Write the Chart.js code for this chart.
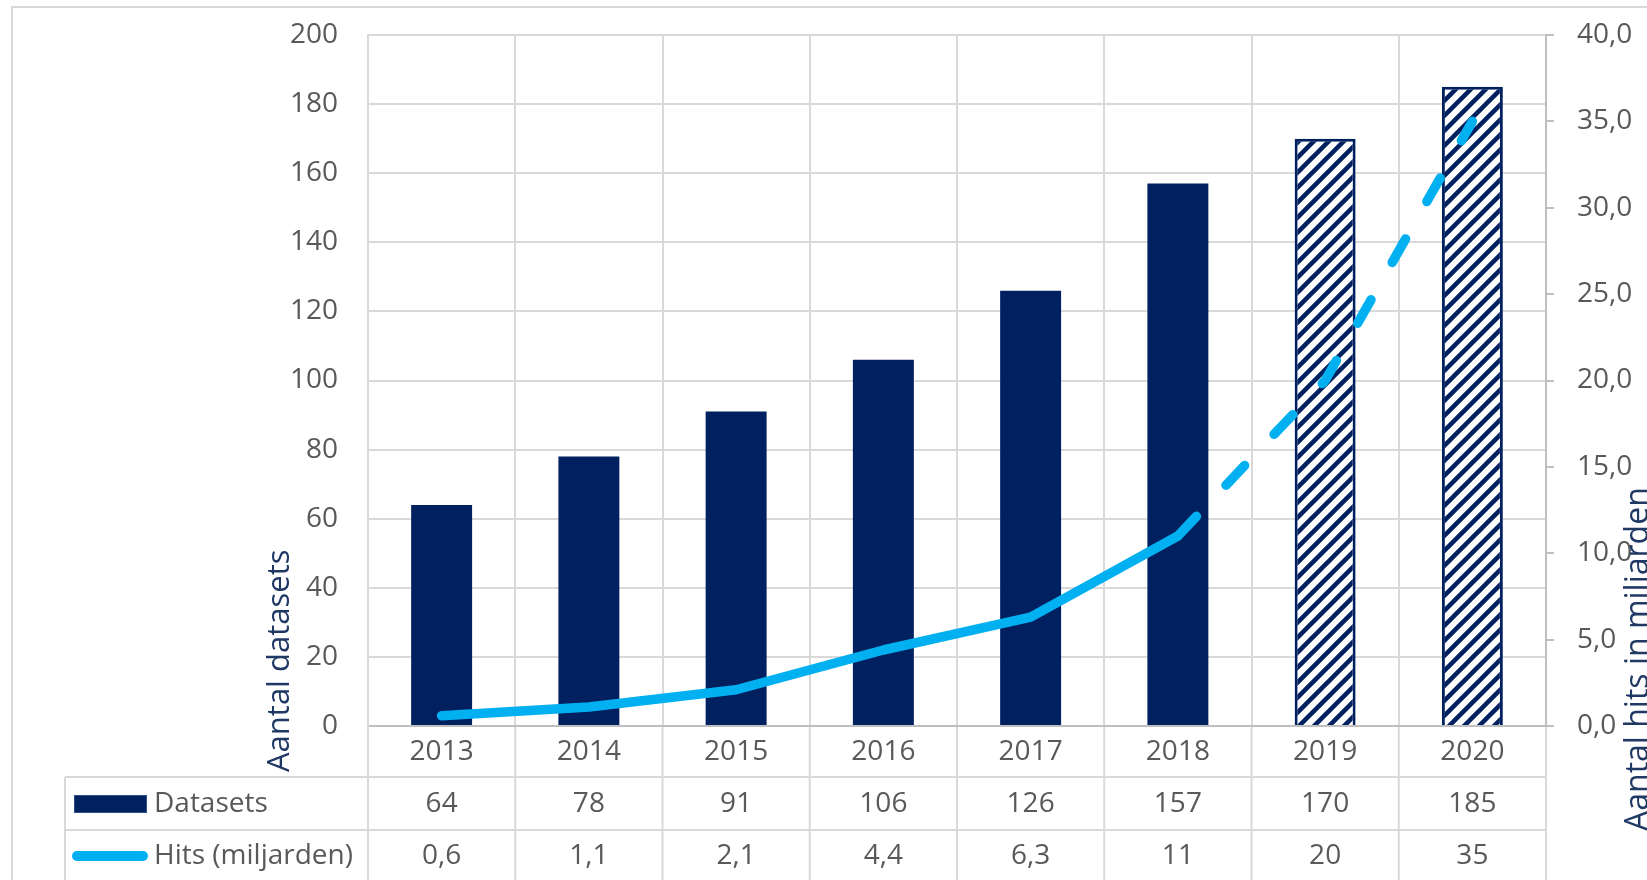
<!DOCTYPE html>
<html><head><meta charset="utf-8">
<script src="https://cdn.jsdelivr.net/npm/chart.js@4"></script>
<style>html,body{margin:0;padding:0;background:#fff;overflow:hidden}canvas{display:block}</style>
</head><body>
<canvas id="c" width="1647" height="880"></canvas>
<script>
// ---- data ----
const years = ['2013', '2014', '2015', '2016', '2017', '2018', '2019', '2020'];
const datasetsCount = [64, 78, 91, 106, 126, 157, 170, 185];
const hitsBillions = [0.6, 1.1, 2.1, 4.4, 6.3, 11, 20, 35];
const firstProjected = 6; // 2019 and 2020 are projections
const seriesNames = ['Datasets', 'Hits (miljarden)'];
const axisTitles = ['Aantal datasets', 'Aantal hits in miljarden'];
const leftAxis = { min: 0, max: 200, step: 20 };
const rightAxis = { min: 0, max: 40, step: 5 };

// ---- styles ----
const NAVY = '#002060';
const BLUE = '#00B0F0';
const GRID = '#d9d9d9';
const TEXT = '#595959';
const TITLE = '#1F3864';
const FONT = "'Open Sans', sans-serif";

const canvas = document.getElementById('c');
const ctx0 = canvas.getContext('2d');

function makeHatch() {
  const s = 15;
  const c = document.createElement('canvas');
  c.width = s; c.height = s;
  const g = c.getContext('2d');
  g.fillStyle = '#fff'; g.fillRect(0, 0, s, s);
  g.strokeStyle = NAVY; g.lineWidth = 4.5; g.lineCap = 'square';
  g.beginPath();
  g.moveTo(-s / 2, s / 2); g.lineTo(s / 2, -s / 2);
  g.moveTo(0, s); g.lineTo(s, 0);
  g.moveTo(s / 2, s * 1.5); g.lineTo(s * 1.5, s / 2);
  g.stroke();
  return ctx0.createPattern(c, 'repeat');
}
const hatch = makeHatch();

const commaFmt = v => String(v).replace('.', ',');

const decorPlugin = {
  id: 'decor',
  beforeDraw(chart) {
    const ctx = chart.ctx;
    ctx.save();
    ctx.strokeStyle = GRID; ctx.lineWidth = 2;
    ctx.beginPath();
    ctx.moveTo(12, 880); ctx.lineTo(12, 7); ctx.lineTo(1647, 7);
    ctx.stroke();
    ctx.restore();
  },
  afterDraw(chart) {
    const ctx = chart.ctx;
    const a = chart.chartArea;
    const x = chart.scales.x;
    const n = years.length;
    const cw = (a.right - a.left) / n;
    const tTop = 777, tMid = 830, tBot = 882;
    const row1 = 804, row2 = 856;
    ctx.save();
    ctx.strokeStyle = GRID; ctx.lineWidth = 2;
    ctx.beginPath();
    ctx.moveTo(65, tTop); ctx.lineTo(a.right, tTop);
    ctx.moveTo(65, tMid); ctx.lineTo(a.right, tMid);
    ctx.moveTo(65, tBot); ctx.lineTo(a.right, tBot);
    ctx.moveTo(65, tTop); ctx.lineTo(65, 880);
    for (let i = 0; i <= n; i++) {
      const bx = a.left + i * cw;
      ctx.moveTo(bx, a.bottom + 1); ctx.lineTo(bx, 880);
    }
    ctx.stroke();

    // legend keys
    ctx.fillStyle = NAVY;
    ctx.fillRect(74, 795, 73, 18);
    ctx.strokeStyle = '#2f4f8f'; ctx.lineWidth = 1;
    ctx.strokeRect(74.5, 795.5, 72, 17);
    ctx.strokeStyle = BLUE; ctx.lineWidth = 10; ctx.lineCap = 'round';
    ctx.beginPath(); ctx.moveTo(77, row2); ctx.lineTo(143, row2); ctx.stroke();

    ctx.font = '28px ' + FONT;
    ctx.fillStyle = TEXT;
    ctx.textBaseline = 'middle';
    ctx.textAlign = 'left';
    ctx.fillText(seriesNames[0], 154, row1);
    ctx.fillText(seriesNames[1], 154, row2);
    ctx.textAlign = 'center';
    for (let i = 0; i < n; i++) {
      const cx = x.getPixelForValue(i);
      ctx.fillText(String(datasetsCount[i]), cx, row1);
      ctx.fillText(commaFmt(hitsBillions[i]), cx, row2);
    }

    // axis titles
    ctx.fillStyle = TITLE;
    ctx.textBaseline = 'alphabetic';
    ctx.textAlign = 'left';
    ctx.font = '31px ' + FONT;
    ctx.save();
    ctx.translate(289, 772); ctx.rotate(-Math.PI / 2);
    ctx.fillText(axisTitles[0], 0, 0);
    ctx.restore();
    ctx.font = '32px ' + FONT;
    ctx.save();
    ctx.translate(1648, 831); ctx.rotate(-Math.PI / 2);
    ctx.fillText(axisTitles[1], 0, 0);
    ctx.restore();
    ctx.restore();
  }
};

Chart.defaults.font.family = FONT;
Chart.defaults.font.size = 28;
Chart.defaults.color = TEXT;

const noPad = s => { s.paddingTop = 0; s.paddingBottom = 0; s.paddingLeft = 0; s.paddingRight = 0; };

new Chart(canvas, {
  type: 'bar',
  data: {
    labels: years,
    datasets: [
      {
        type: 'line',
        label: seriesNames[1],
        data: hitsBillions,
        yAxisID: 'y1',
        order: 0,
        borderColor: BLUE,
        borderWidth: 9.5,
        borderCapStyle: 'round',
        borderJoinStyle: 'round',
        pointRadius: 0,
        tension: 0,
        fill: false,
        segment: {
          borderDash: c => (c.p0DataIndex >= firstProjected - 1 ? [27, 43] : undefined)
        }
      },
      {
        type: 'bar',
        label: seriesNames[0],
        data: datasetsCount,
        yAxisID: 'y',
        order: 1,
        backgroundColor: datasetsCount.map((v, i) => i >= firstProjected ? hatch : NAVY),
        borderColor: NAVY,
        borderWidth: datasetsCount.map((v, i) => i >= firstProjected ? 3 : 0),
        barPercentage: 0.414,
        categoryPercentage: 1
      }
    ]
  },
  options: {
    responsive: false,
    animation: false,
    devicePixelRatio: 1,
    layout: { padding: { top: 35, left: 0, right: 0, bottom: 0 } },
    plugins: { legend: { display: false }, tooltip: { enabled: false } },
    scales: {
      x: {
        offset: true,
        grid: { color: GRID, lineWidth: 2, drawTicks: false, offset: true },
        border: { color: '#bfbfbf', width: 2 },
        ticks: { padding: 9, color: TEXT, font: { size: 28 } },
        afterFit: s => { s.height = 154; noPad(s); }
      },
      y: {
        position: 'left',
        min: leftAxis.min, max: leftAxis.max,
        grid: { color: GRID, lineWidth: 2, drawTicks: false },
        border: { color: GRID, width: 2 },
        ticks: { stepSize: leftAxis.step, padding: 30, color: TEXT, font: { size: 28 } },
        afterFit: s => { s.width = 368; noPad(s); }
      },
      y1: {
        position: 'right',
        min: rightAxis.min, max: rightAxis.max,
        grid: { drawOnChartArea: false, drawTicks: true, tickLength: 8, color: '#bfbfbf', lineWidth: 2 },
        border: { color: '#bfbfbf', width: 2 },
        ticks: { stepSize: rightAxis.step, padding: 23, color: TEXT, font: { size: 28 },
          callback: v => v.toFixed(1).replace('.', ',') },
        afterFit: s => { s.width = 101; noPad(s); }
      }
    }
  },
  plugins: [decorPlugin]
});
</script>
</body></html>
